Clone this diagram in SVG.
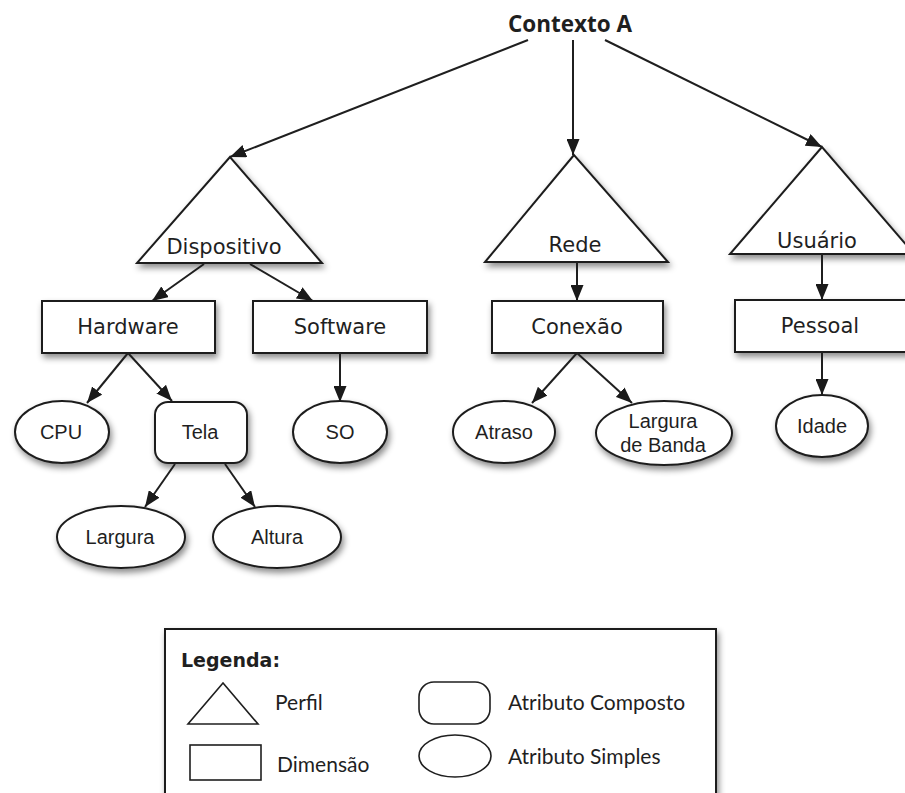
<svg xmlns="http://www.w3.org/2000/svg" width="905" height="793" viewBox="0 0 905 793">
  <defs>
    <filter id="shadow" x="-20%" y="-20%" width="140%" height="150%">
      <feDropShadow dx="2" dy="4" stdDeviation="3" flood-color="#000" flood-opacity="0.45"/>
    </filter>
    <marker id="arrow" markerWidth="17" markerHeight="13" refX="16" refY="6.5" orient="auto" markerUnits="userSpaceOnUse">
      <path d="M0,0 L16,6.5 L0,13 z" fill="#1a1a1a"/>
    </marker>
    <style>
      .shape { fill: #fff; stroke: #1f1f1f; stroke-width: 2; filter: url(#shadow); }
      .lg { fill: #fff; stroke: #1f1f1f; stroke-width: 1.6; }
      .edge { stroke: #1f1f1f; stroke-width: 2; fill: none; marker-end: url(#arrow); }
      .lbl { font-family: "DejaVu Sans", sans-serif; font-size: 21px; fill: #1f1f1f; text-anchor: middle; }
      .att { font-family: "Liberation Sans", Arial, sans-serif; font-size: 20px; fill: #1f1f1f; text-anchor: middle; }
      .leg { font-family: Lato, "Open Sans", sans-serif; font-size: 21px; fill: #1f1f1f; }
      .title { font-family: "Open Sans", sans-serif; font-weight: bold; font-size: 22.5px; fill: #1f1f1f; text-anchor: middle; }
    </style>
  </defs>
  <rect width="905" height="793" fill="#fff"/>

  <!-- root -->
  <g id="contexto-a">
    <text class="title" x="570" y="32">Contexto A</text>
  </g>

  <!-- profiles -->
  <g id="dispositivo">
    <polygon class="shape" points="230,157 137,263 322,263"/>
    <text class="lbl" x="224" y="254">Dispositivo</text>
  </g>
  <g id="rede">
    <polygon class="shape" points="574,155 485,262 668,262"/>
    <text class="lbl" x="575" y="252">Rede</text>
  </g>
  <g id="usuario">
    <polygon class="shape" points="822,147 730,254 914,254"/>
    <text class="lbl" x="817" y="248">Usuário</text>
  </g>

  <!-- dimensions -->
  <g id="hardware">
    <rect class="shape" x="42" y="301" width="173" height="52"/>
    <text class="lbl" x="128" y="334">Hardware</text>
  </g>
  <g id="software">
    <rect class="shape" x="253" y="301" width="174" height="52"/>
    <text class="lbl" x="340" y="334">Software</text>
  </g>
  <g id="conexao">
    <rect class="shape" x="492" y="301" width="171" height="52"/>
    <text class="lbl" x="577" y="334">Conexão</text>
  </g>
  <g id="pessoal">
    <rect class="shape" x="735" y="300" width="174" height="52"/>
    <text class="lbl" x="820" y="333">Pessoal</text>
  </g>

  <!-- attributes -->
  <g id="cpu">
    <ellipse class="shape" cx="62" cy="432" rx="47" ry="31"/>
    <text class="att" x="61" y="439">CPU</text>
  </g>
  <g id="tela">
    <rect class="shape" x="155" y="402" width="92" height="61" rx="13"/>
    <text class="att" x="200" y="439">Tela</text>
  </g>
  <g id="so">
    <ellipse class="shape" cx="340" cy="432" rx="47" ry="31"/>
    <text class="att" x="340" y="439">SO</text>
  </g>
  <g id="largura">
    <ellipse class="shape" cx="121" cy="537" rx="64" ry="31"/>
    <text class="att" x="120" y="544">Largura</text>
  </g>
  <g id="altura">
    <ellipse class="shape" cx="277" cy="537" rx="64" ry="31"/>
    <text class="att" x="277" y="544">Altura</text>
  </g>
  <g id="atraso">
    <ellipse class="shape" cx="504" cy="432" rx="51" ry="31"/>
    <text class="att" x="504" y="439">Atraso</text>
  </g>
  <g id="largura-de-banda">
    <ellipse class="shape" cx="664" cy="433" rx="68" ry="32"/>
    <text class="att" x="663" y="428">Largura</text>
    <text class="att" x="663" y="452">de Banda</text>
  </g>
  <g id="idade">
    <ellipse class="shape" cx="822" cy="426" rx="46" ry="31"/>
    <text class="att" x="822" y="433">Idade</text>
  </g>

  <!-- connectors -->
  <g id="connectors">
    <line class="edge" x1="528" y1="40" x2="230" y2="157"/>
    <line class="edge" x1="573" y1="40" x2="573" y2="155"/>
    <line class="edge" x1="605" y1="40" x2="822" y2="147"/>
    <line class="edge" x1="204" y1="264" x2="152" y2="301"/>
    <line class="edge" x1="250" y1="264" x2="313" y2="301"/>
    <line class="edge" x1="577" y1="262" x2="577" y2="301"/>
    <line class="edge" x1="822" y1="254" x2="822" y2="300"/>
    <line class="edge" x1="128" y1="353" x2="87" y2="403"/>
    <line class="edge" x1="128" y1="353" x2="172" y2="401"/>
    <line class="edge" x1="340" y1="353" x2="340" y2="402"/>
    <line class="edge" x1="175" y1="464" x2="145" y2="507"/>
    <line class="edge" x1="225" y1="464" x2="255" y2="507"/>
    <line class="edge" x1="577" y1="353" x2="532" y2="403"/>
    <line class="edge" x1="577" y1="353" x2="632" y2="403"/>
    <line class="edge" x1="822" y1="352" x2="822" y2="395"/>
  </g>

  <!-- legend -->
  <g id="legenda">
    <rect class="shape" x="165" y="629" width="551" height="200"/>
    <text x="181" y="667" style="font-family:'DejaVu Sans',sans-serif;font-weight:bold;font-size:19px;fill:#1f1f1f">Legenda:</text>
    <polygon class="lg" points="223,683 188,724 258,724"/>
    <text class="leg" x="275" y="710">Perfil</text>
    <rect class="lg" x="190" y="745" width="71" height="35"/>
    <text class="leg" x="277" y="772">Dimensão</text>
    <rect class="lg" x="419" y="682" width="71" height="42" rx="15"/>
    <text class="leg" x="508" y="710">Atributo Composto</text>
    <ellipse class="lg" cx="455" cy="756" rx="36" ry="21"/>
    <text class="leg" x="508" y="764">Atributo Simples</text>
  </g>
</svg>
